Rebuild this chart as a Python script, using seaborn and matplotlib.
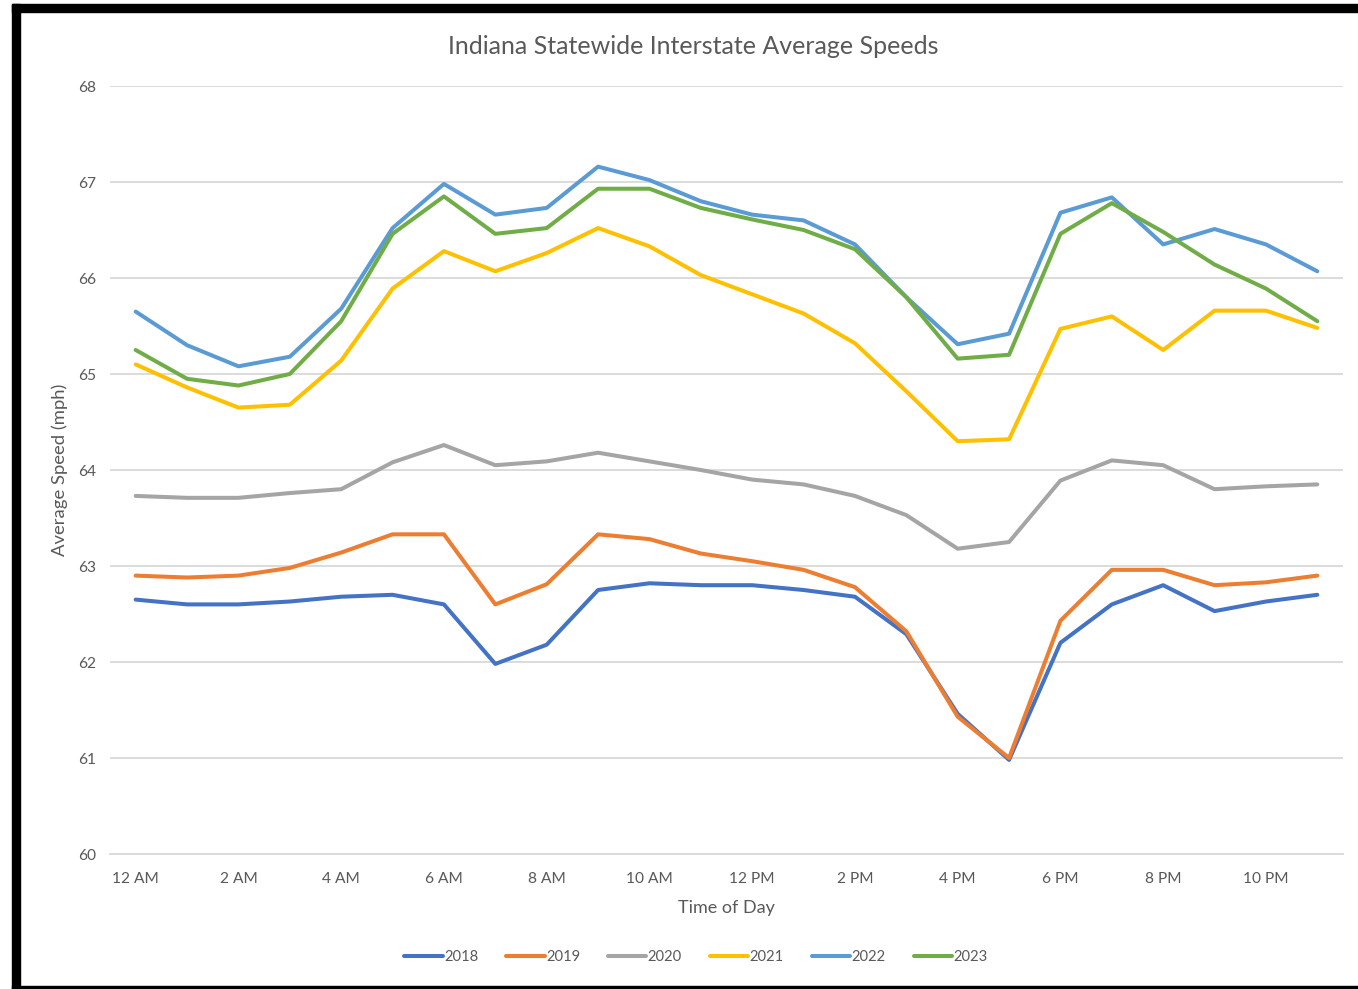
import numpy as np
import pandas as pd
import matplotlib
matplotlib.use("Agg")
import matplotlib.pyplot as plt
import seaborn as sns
from matplotlib.patches import Rectangle

hours = list(range(24))
tick_positions = [0, 2, 4, 6, 8, 10, 12, 14, 16, 18, 20, 22]
tick_labels = ["12 AM", "2 AM", "4 AM", "6 AM", "8 AM", "10 AM",
               "12 PM", "2 PM", "4 PM", "6 PM", "8 PM", "10 PM"]
years = ["2018", "2019", "2020", "2021", "2022", "2023"]

s2018 = [62.65, 62.60, 62.60, 62.63, 62.68, 62.70, 62.60, 61.98, 62.18, 62.75, 62.82, 62.80,
         62.80, 62.75, 62.68, 62.29, 61.46, 60.98, 62.20, 62.60, 62.80, 62.53, 62.63, 62.70]
s2019 = [62.90, 62.88, 62.90, 62.98, 63.14, 63.33, 63.33, 62.60, 62.81, 63.33, 63.28, 63.13,
         63.05, 62.96, 62.78, 62.32, 61.43, 61.00, 62.43, 62.96, 62.96, 62.80, 62.83, 62.90]
s2020 = [63.73, 63.71, 63.71, 63.76, 63.80, 64.08, 64.26, 64.05, 64.09, 64.18, 64.09, 64.00,
         63.90, 63.85, 63.73, 63.53, 63.18, 63.25, 63.89, 64.10, 64.05, 63.80, 63.83, 63.85]
s2021 = [65.10, 64.86, 64.65, 64.68, 65.14, 65.89, 66.28, 66.07, 66.26, 66.52, 66.33, 66.03,
         65.83, 65.63, 65.32, 64.82, 64.30, 64.32, 65.47, 65.60, 65.25, 65.66, 65.66, 65.48]
s2022 = [65.65, 65.30, 65.08, 65.18, 65.68, 66.52, 66.98, 66.66, 66.73, 67.16, 67.02, 66.80,
         66.66, 66.60, 66.35, 65.80, 65.31, 65.42, 66.68, 66.84, 66.35, 66.51, 66.35, 66.07]
s2023 = [65.25, 64.95, 64.88, 65.00, 65.55, 66.46, 66.85, 66.46, 66.52, 66.93, 66.93, 66.73,
         66.61, 66.50, 66.30, 65.80, 65.16, 65.20, 66.46, 66.78, 66.48, 66.14, 65.89, 65.55]

series = [s2018, s2019, s2020, s2021, s2022, s2023]
df = pd.concat([pd.DataFrame({"hour": hours, "speed": s, "year": y})
                for y, s in zip(years, series)], ignore_index=True)

palette = {"2018": "#4472C4", "2019": "#ED7D31", "2020": "#A5A5A5",
           "2021": "#FFC000", "2022": "#5B9BD5", "2023": "#70AD47"}

sns.set_theme(style="white")
plt.rcParams["font.family"] = ["Lato", "DejaVu Sans"]
txt = "#595959"

fig = plt.figure(figsize=(13.58, 9.89), dpi=100)
ax = fig.add_axes([110 / 1358, 1 - 854 / 989, (1343 - 110) / 1358, (854 - 86) / 989])

sns.lineplot(data=df, x="hour", y="speed", hue="year", hue_order=years,
             palette=palette, linewidth=2.9, ax=ax, legend=True)

ax.set_xlim(-0.5, 23.5)
ax.set_ylim(60, 68)
ax.set_yticks(range(60, 69))
ax.set_xticks(tick_positions)
ax.set_xticklabels(tick_labels)
ax.yaxis.grid(True, color="#D9D9D9", linewidth=1.3)
ax.xaxis.grid(False)
for sp in ["top", "right", "left"]:
    ax.spines[sp].set_visible(False)
ax.spines["bottom"].set_color("#D9D9D9")
ax.spines["bottom"].set_linewidth(1.3)
ax.tick_params(axis="x", colors=txt, labelsize=11.2, length=0, pad=13)
ax.tick_params(axis="y", colors=txt, labelsize=11.2, length=0, pad=10)
ax.set_xlabel("Time of Day", color=txt, fontsize=13, labelpad=10)
ax.set_ylabel("Average Speed (mph)", color=txt, fontsize=13.3, labelpad=7)
fig.text(693 / 1358, 1 - 46 / 989, "Indiana Statewide Interstate Average Speeds",
         color=txt, fontsize=18, ha="center", va="center")

handles, labels = ax.get_legend_handles_labels()
ax.get_legend().remove()
fig.legend(handles, labels, loc="center", bbox_to_anchor=(696 / 1358, 1 - 957 / 989), ncol=6,
           frameon=False, fontsize=10.6, handlelength=2.6, handletextpad=0.1,
           columnspacing=1.9, labelcolor=txt)

# screenshot frame
fig.patches.append(Rectangle((12 / 1358, 0), 8 / 1358, 1 - 4 / 989, transform=fig.transFigure,
                             color="black", zorder=10))
fig.patches.append(Rectangle((12 / 1358, 1 - 12 / 989), 1 - 12 / 1358, 8 / 989,
                             transform=fig.transFigure, color="black", zorder=10))
fig.patches.append(Rectangle((12 / 1358, 0), 1 - 12 / 1358, 3 / 989,
                             transform=fig.transFigure, color="black", zorder=10))

fig.savefig("out.png", dpi=100)
